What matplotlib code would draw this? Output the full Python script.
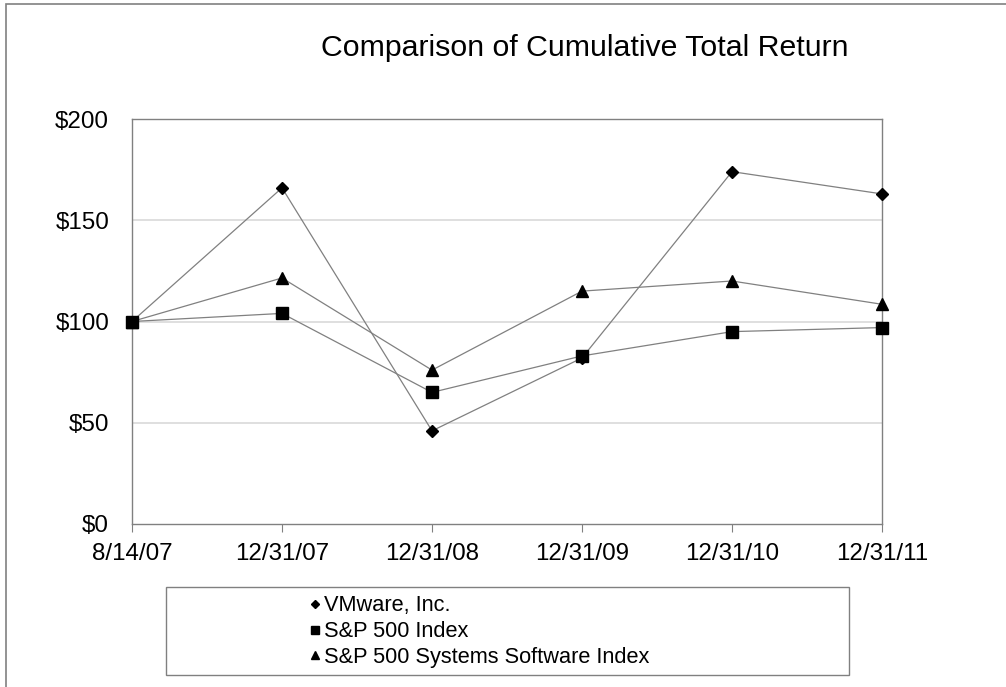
import matplotlib
matplotlib.use("Agg")
import matplotlib.pyplot as plt
from matplotlib.patches import Rectangle

plt.rcParams['font.family'] = ['Liberation Sans', 'DejaVu Sans']

# data
dates = ["8/14/07", "12/31/07", "12/31/08", "12/31/09", "12/31/10", "12/31/11"]
vmware = [100, 166, 46, 82, 174, 163]
sp500 = [100, 104, 65, 83, 95, 97]
sp_software = [100, 121.5, 76, 115, 120, 108.5]
yticks = [0, 50, 100, 150, 200]

series = [
    ("VMware, Inc.", vmware, "D", 6),
    ("S&P 500 Index", sp500, "s", 8),
    ("S&P 500 Systems Software Index", sp_software, "^", 8),
]

fig = plt.figure(figsize=(10.06, 6.87), dpi=100)
ax = fig.add_axes([132/1006, 1 - 524/687, 750/1006, 405/687])

x = list(range(len(dates)))
handles = []
for label, vals, mk, ms in series:
    ax.plot(x, vals, color="#808080", lw=0.9, zorder=2)
    ax.plot(x, vals, ls="none", marker=mk, ms=ms, color="black", zorder=3,
            clip_on=False)
    h, = ax.plot([], [], ls="none", marker=mk, ms=ms*0.7, color="black",
                 label=label)
    handles.append(h)

ax.set_xlim(0, len(dates) - 1)
ax.set_ylim(0, 200)
ax.set_xticks(x)
ax.set_xticklabels(dates, fontsize=17.4)
ax.set_yticks(yticks)
ax.set_yticklabels(["$%d" % v for v in yticks], fontsize=17.4)
ax.tick_params(axis="x", direction="out", length=6, color="#808080",
               pad=8)
ax.tick_params(axis="y", length=0, pad=16.5)
for v in yticks[1:-1]:
    ax.axhline(v, color="#d9d9d9", lw=1.2, zorder=1)
for s in ax.spines.values():
    s.set_color("#808080")
    s.set_linewidth(1)

fig.text(585/1006, 1 - 48/687, "Comparison of Cumulative Total Return",
         ha="center", va="center", fontsize=21.8)

# legend box
fig.patches.append(Rectangle((166/1006, 1 - 675/687), 683/1006, 88/687,
                             transform=fig.transFigure, fill=False,
                             edgecolor="#808080", lw=1))
fig.legend(handles=handles, loc="upper left",
           bbox_to_anchor=(292/1006, 1 - 578/687), frameon=False,
           fontsize=15.7, handlelength=0.5, handletextpad=0.15,
           labelspacing=0.22, borderpad=0.3)

# outer frame of the picture
fig.patches.append(Rectangle((6/1006, -0.1), 1.2, 1 - 4/687 + 0.1,
                             transform=fig.transFigure, fill=False,
                             edgecolor="#808080", lw=1.2))

fig.savefig("out.png", dpi=100)
